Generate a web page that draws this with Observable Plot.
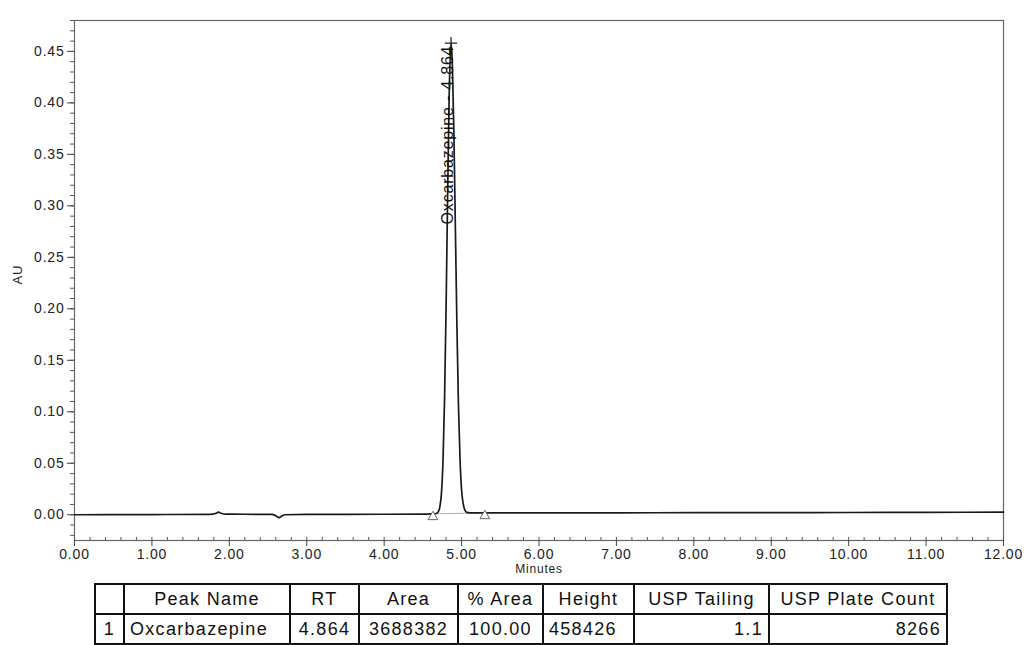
<!DOCTYPE html>
<html>
<head>
<meta charset="utf-8">
<script src="https://cdn.jsdelivr.net/npm/d3@7"></script>
<script src="https://cdn.jsdelivr.net/npm/@observablehq/plot@0.6"></script>
<style>
  html, body { margin: 0; padding: 0; background: #fff; }
  #chart svg { display: block; }
  #chart svg text { letter-spacing: 0.8px; }
  table.peaks {
    margin-left: 94px; margin-top: 5px;
    border-collapse: collapse;
    font-family: "Liberation Sans", Arial, sans-serif;
    font-size: 18px; letter-spacing: 1.3px; color: #111;
    table-layout: fixed;
  }
  table.peaks td { border: 2px solid #111; height: 28px; padding: 0 5px; white-space: nowrap; overflow: hidden; }
</style>
</head>
<body>
<div id="chart"></div>
<script>
// ---- chromatogram trace (minutes, AU) ----
const times = [0, 1.0, 1.75, 1.82, 1.86, 1.9, 1.96, 2.2, 2.55, 2.6, 2.64, 2.68, 2.72, 3.0, 4.0, 4.5, 4.6, 4.65, 4.68, 4.70, 4.72, 4.74, 4.76, 4.78, 4.80, 4.82, 4.84, 4.864, 4.88, 4.90, 4.92, 4.94, 4.96, 4.98, 5.00, 5.02, 5.04, 5.06, 5.08, 5.12, 5.2, 5.3, 6.0, 7.0, 8.0, 9.0, 10.0, 11.0, 12.0];
const absorbance = [0.0000, 0.0002, 0.0004, 0.0012, 0.0025, 0.0012, 0.0006, 0.0005, 0.0003, -0.0010, -0.0028, -0.0012, 0.0000, 0.0004, 0.0005, 0.0006, 0.0008, 0.0010, 0.0015, 0.0030, 0.0080, 0.021, 0.053, 0.112, 0.202, 0.311, 0.408, 0.458, 0.440, 0.373, 0.278, 0.182, 0.105, 0.054, 0.024, 0.011, 0.0050, 0.0027, 0.0021, 0.0019, 0.0018, 0.0018, 0.0018, 0.0019, 0.0020, 0.0021, 0.0022, 0.0024, 0.0025];

// peak annotation
const peakName = "Oxcarbazepine";
const peakRT = 4.864;
const peakHeight = 0.458;
const peakLabelBase = 0.282;
// integration start / end markers
const markerTimes = [4.63, 5.30];
const markerAU = [0.0009, 0.0018];

// axes
const xTicks = [0, 1, 2, 3, 4, 5, 6, 7, 8, 9, 10, 11, 12];
const xMinor = d3.range(0, 60.5, 1).map(i => i / 5);
const yTicks = [0, 0.05, 0.10, 0.15, 0.20, 0.25, 0.30, 0.35, 0.40, 0.45];
const yMinor = d3.range(-2, 49, 1).map(i => i / 100);
const xLabel = "Minutes";
const yLabel = "AU";

// results table
const tableHeaders = ["", "Peak Name", "RT", "Area", "% Area", "Height", "USP Tailing", "USP Plate Count"];
const tableRow = ["1", "Oxcarbazepine", "4.864", "3688382", "100.00", "458426", "1.1", "8266"];

const trace = times.map((t, i) => ({t, au: absorbance[i]}));
const markers = markerTimes.map((t, i) => ({t, au: markerAU[i]}));
const fmt = d3.format(".2f");

const chart = Plot.plot({
  width: 1028,
  height: 578,
  marginLeft: 74,
  marginRight: 25,
  marginTop: 20,
  marginBottom: 38,
  x: {domain: [0, 12]},
  y: {domain: [-0.025, 0.48]},
  style: {fontFamily: "'Liberation Sans', Arial, sans-serif", fontSize: "14px", color: "#222", background: "#fff"},
  marks: [
    Plot.frame({stroke: "#666", strokeWidth: 1.2}),
    Plot.axisY({ticks: yTicks, tickFormat: fmt, tickSize: 7, label: null, stroke: "#444"}),
    Plot.axisY({ticks: yMinor, tickFormat: () => "", tickSize: 4, label: null, stroke: "#555"}),
    Plot.axisX({ticks: xTicks, tickFormat: fmt, tickSize: 6, label: null, stroke: "#444"}),
    Plot.axisX({ticks: xMinor, tickFormat: () => "", tickSize: 3, dy: -3, label: null, stroke: "#555"}),
    Plot.text([xLabel], {x: () => 6, frameAnchor: "bottom", dy: 32, fontSize: 12, text: d => d, fill: "#222"}),
    Plot.text([yLabel], {frameAnchor: "left", dx: -57, dy: 4, rotate: -90, fontSize: 13, text: d => d, fill: "#222"}),
    Plot.line(markers, {x: "t", y: "au", stroke: "#999", strokeWidth: 0.8}),
    Plot.line(trace, {x: "t", y: "au", stroke: "#1a1a1a", strokeWidth: 1.7, curve: "monotone-x"}),
    Plot.dot(markers, {x: "t", y: "au", symbol: "triangle", r: 3.6, dy: 3, stroke: "#666", fill: "#fff", strokeWidth: 1}),
    Plot.dot([{t: peakRT, au: peakHeight}], {x: "t", y: "au", symbol: "plus", r: 4, stroke: "#222", strokeWidth: 1.2}),
    Plot.text([{t: peakRT, au: peakLabelBase, label: `${peakName} - ${peakRT.toFixed(3)}`}], {
      x: "t", y: "au", text: "label", rotate: -90, textAnchor: "start", dx: -3,
      fontSize: 16, fill: "#111"
    })
  ]
});
document.getElementById("chart").appendChild(chart);

// table below the chart
const widths = [29, 166, 69, 99, 85, 91, 135, 178];
const alignHead = ["center", "center", "center", "center", "center", "center", "center", "center"];
const alignRow = ["center", "left", "center", "center", "center", "left", "right", "right"];
const table = document.createElement("table");
table.className = "peaks";
const colgroup = document.createElement("colgroup");
widths.forEach(w => { const c = document.createElement("col"); c.style.width = w + "px"; colgroup.appendChild(c); });
table.appendChild(colgroup);
[[tableHeaders, alignHead], [tableRow, alignRow]].forEach(([cells, aligns]) => {
  const tr = document.createElement("tr");
  cells.forEach((v, i) => { const td = document.createElement("td"); td.textContent = v; td.style.textAlign = aligns[i]; tr.appendChild(td); });
  table.appendChild(tr);
});
document.getElementById("chart").appendChild(table);
</script>
</body>
</html>
